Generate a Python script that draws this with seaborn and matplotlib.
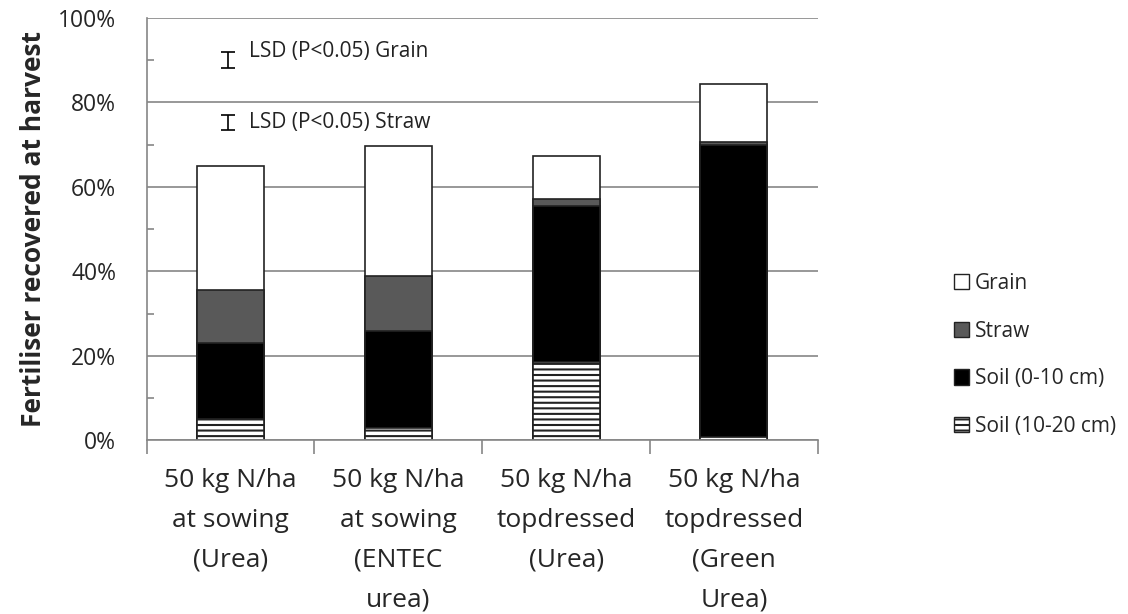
import matplotlib
matplotlib.use("Agg")
import matplotlib.pyplot as plt
import seaborn as sns
import numpy as np
import pandas as pd
from matplotlib.patches import Patch

categories = ["50 kg N/ha\nat sowing\n(Urea)", "50 kg N/ha\nat sowing\n(ENTEC\nurea)",
              "50 kg N/ha\ntopdressed\n(Urea)", "50 kg N/ha\ntopdressed\n(Green\nUrea)"]
soil_10_20 = [5.0, 3.0, 18.5, 0.8]
soil_0_10 = [18.0, 22.8, 37.0, 69.1]
straw = [12.5, 13.1, 1.5, 0.6]
grain = [29.5, 30.8, 10.3, 13.9]
lsd_labels = ["LSD (P<0.05) Grain", "LSD (P<0.05) Straw"]
lsd_centers = [90.0, 75.2]
lsd_half = [1.8, 1.8]

sns.set_theme(style="white")
plt.rcParams['font.family'] = ['Open Sans', 'DejaVu Sans']
plt.rcParams['hatch.color'] = '#3a3520'
plt.rcParams['hatch.linewidth'] = 1.5

fig = plt.figure(figsize=(11.28, 6.14), dpi=100)
ax = fig.add_axes([0.130, 0.283, 0.595, 0.688])

arrs = [np.array(soil_10_20), np.array(soil_0_10), np.array(straw), np.array(grain)]
cum = np.cumsum(arrs, axis=0)
tops = {"Soil (10-20 cm)": cum[0], "Soil (0-10 cm)": cum[1], "Straw": cum[2], "Grain": cum[3]}
layers = [("Grain", "white", None),
          ("Straw", "#595959", None),
          ("Soil (0-10 cm)", "black", None),
          ("Soil (10-20 cm)", "white", "---")]

x_idx = list(range(len(categories)))
for name, color, hatch in layers:
    df = pd.DataFrame({"cat": x_idx, "val": tops[name]})
    sns.barplot(data=df, x="cat", y="val", color=color, width=0.4, ax=ax,
                edgecolor="#222222", linewidth=1.2, saturation=1)
    if hatch:
        for p in ax.patches[-len(categories):]:
            p.set_hatch(hatch)

ax.set_ylim(0, 100)
ax.set_xlim(-0.5, 3.5)
ax.set_yticks(np.arange(0, 101, 20))
ax.set_yticklabels([f"{v}%" for v in range(0, 101, 20)], fontsize=16.5)
ax.set_yticks(np.arange(0, 101, 10), minor=True)
ax.set_xticks(x_idx)
ax.set_xticklabels(categories, fontsize=19, linespacing=1.78)
ax.set_xticks(np.arange(-0.5, 4.0, 1.0), minor=True)
ax.tick_params(axis='x', which='major', length=0, pad=20)
ax.tick_params(axis='x', which='minor', length=10, color='#868686', width=1.2, direction='out', bottom=True)
ax.tick_params(axis='y', which='major', length=0, pad=22)
ax.tick_params(axis='y', which='minor', length=5, color='#868686', width=1.2, direction='in', left=True)
ax.yaxis.grid(True, color="#868686", linewidth=1.2)
ax.set_axisbelow(True)
for s in ["top", "right"]:
    ax.spines[s].set_visible(False)
for s in ["left", "bottom"]:
    ax.spines[s].set_color("#868686")
    ax.spines[s].set_linewidth(1.2)
ax.set_xlabel("")
ax.set_ylabel("Fertiliser recovered at harvest", fontsize=19, fontweight="bold", labelpad=8)

lsd_text_y = [92.0, 75.2]
for lab, c, h, ty in zip(lsd_labels, lsd_centers, lsd_half, lsd_text_y):
    ax.errorbar([-0.017], [c], yerr=[h], fmt="none", ecolor="black", elinewidth=1.2, capsize=5, capthick=1.2)
    ax.text(0.11, ty, lab, fontsize=15, va="center", ha="left", color="#222222")

handles = [Patch(facecolor="white", edgecolor="#222222", label="Grain"),
           Patch(facecolor="#595959", edgecolor="#222222", label="Straw"),
           Patch(facecolor="black", edgecolor="#222222", label="Soil (0-10 cm)"),
           Patch(facecolor="white", edgecolor="#222222", hatch="---", label="Soil (10-20 cm)")]
fig.legend(handles=handles, loc="center left", bbox_to_anchor=(0.829, 0.422), frameon=False,
           fontsize=15, handlelength=0.75, handleheight=0.75, handletextpad=0.25, labelspacing=1.28)

fig.savefig("out.png", dpi=100)
